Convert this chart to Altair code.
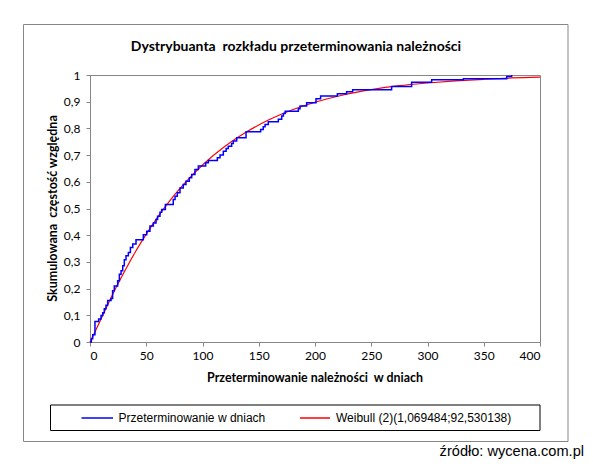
import altair as alt
import pandas as pd

# Empirical CDF (step after each listed day)
emp_days = [0, 1.2, 2.4, 4.4, 7.7, 9.8, 11.3, 12.7, 14.2, 15.7, 18.7, 20.1, 21.6, 24.6, 26.1,
            27.6, 29.1, 30.5, 32.0, 34.1, 35.9, 38.0, 40.9, 47.4, 50.4, 53.3, 56.3, 58.7, 60.1,
            62.2, 63.7, 67.0, 74.0, 75.6, 77.6, 80.0, 82.9, 85.3, 88.3, 90.4, 93.3, 96.3, 102.8,
            105.2, 113.2, 115.6, 118.5, 121.0, 122.9, 125.9, 127.4, 130.4, 138.7, 151.7, 154.0,
            155.6, 158.5, 167.4, 170.4, 171.9, 173.5, 185.2, 186.7, 192.6, 200.9, 205.0, 219.9,
            228.1, 233.5, 268.1, 285.9, 303.7, 331.9, 370.4, 374.8]
emp_cdf = [0, 0.012, 0.027, 0.077, 0.086, 0.099, 0.11, 0.125, 0.138, 0.155, 0.163, 0.192, 0.21,
           0.229, 0.254, 0.267, 0.286, 0.308, 0.323, 0.335, 0.354, 0.367, 0.383, 0.402, 0.415,
           0.434, 0.446, 0.459, 0.471, 0.486, 0.496, 0.515, 0.534, 0.546, 0.559, 0.577, 0.59,
           0.602, 0.615, 0.627, 0.646, 0.659, 0.671, 0.68, 0.69, 0.70, 0.714, 0.725, 0.733,
           0.743, 0.753, 0.765, 0.787, 0.796, 0.806, 0.815, 0.825, 0.834, 0.846, 0.856, 0.864,
           0.874, 0.884, 0.896, 0.911, 0.921, 0.93, 0.937, 0.945, 0.957, 0.973, 0.982, 0.986,
           0.994, 1.0]

# Fitted Weibull curve
fit_days = [0, 5, 10, 15, 20, 25, 30, 35, 40, 50, 60, 70, 80, 90, 100, 120, 140, 160, 180,
            200, 225, 250, 275, 300, 325, 350, 375, 400]
fit_cdf = [0, 0.043, 0.088, 0.133, 0.177, 0.219, 0.259, 0.298, 0.335, 0.404, 0.467, 0.524,
           0.575, 0.621, 0.663, 0.733, 0.789, 0.834, 0.870, 0.898, 0.925, 0.945, 0.960, 0.970,
           0.978, 0.984, 0.989, 0.992]

x_ticks = [0, 50, 100, 150, 200, 250, 300, 350, 400]
y_ticks = [0, 0.1, 0.2, 0.3, 0.4, 0.5, 0.6, 0.7, 0.8, 0.9, 1]

title_text = "Dystrybuanta\u00a0 rozkładu przeterminowania należności"
x_title = "Przeterminowanie należności\u00a0 w dniach"
y_title = "Skumulowana\u00a0 częstość względna"
legend_labels = ["Przeterminowanie w dniach", "Weibull (2)(1,069484;92,530138)"]
source_text = "źródło: wycena.com.pl"

emp = pd.DataFrame({"dni": emp_days, "F": emp_cdf})
fit = pd.DataFrame({"dni": fit_days, "F": fit_cdf})
one = pd.DataFrame({"a": [0]})

GRAY = "#868686"
xs = alt.Scale(domain=[0, 400], nice=False, zero=False)
ys = alt.Scale(domain=[0, 1], nice=False)

xaxis = alt.Axis(values=x_ticks, title=None, grid=False, domainColor=GRAY, tickColor=GRAY,
                 tickSize=4, labelFont="Lato", labelFontSize=12, labelColor="#000",
                 labelPadding=4)
yaxis = alt.Axis(values=y_ticks, title=None, grid=False, domainColor=GRAY, tickColor=GRAY,
                 tickSize=4, labelFont="Lato", labelFontSize=12, labelColor="#000",
                 labelPadding=6, labelExpr="replace(toString(datum.value), '.', ',')")

blue = alt.Chart(emp).mark_line(color="#0000FF", strokeWidth=1.5, interpolate="step-after").encode(
    x=alt.X("dni:Q", scale=xs, axis=xaxis),
    y=alt.Y("F:Q", scale=ys, axis=yaxis),
)
red = alt.Chart(fit).mark_line(color="#FF0000", strokeWidth=1.2, interpolate="monotone").encode(
    x=alt.X("dni:Q", scale=xs, axis=xaxis),
    y=alt.Y("F:Q", scale=ys, axis=yaxis),
)


def txt(text, x, y, **kw):
    return alt.Chart(one).mark_text(text=text, **kw).encode(x=alt.value(x), y=alt.value(y))


outer = alt.Chart(one).mark_rect(fillOpacity=0, stroke=GRAY, strokeWidth=1).encode(
    x=alt.value(-66.5), x2=alt.value(478), y=alt.value(-50.5), y2=alt.value(366.5))
legbox = alt.Chart(one).mark_rect(fillOpacity=0, stroke="#000", strokeWidth=1).encode(
    x=alt.value(-39.5), x2=alt.value(450), y=alt.value(330), y2=alt.value(355.5))
leg_blue = alt.Chart(one).mark_rule(color="#0000FF", strokeWidth=1.5).encode(
    x=alt.value(-8.5), x2=alt.value(23), y=alt.value(343))
leg_red = alt.Chart(one).mark_rule(color="#FF0000", strokeWidth=1.5).encode(
    x=alt.value(210), x2=alt.value(240), y=alt.value(343))

title = txt(title_text, 206, -28, font="Lato", fontSize=14, fontWeight="bold", align="center",
            baseline="middle", color="#000")
xt = txt(x_title, 225, 303, font="Lato", fontSize=12.4, fontWeight="bold", align="center",
         baseline="middle", color="#000")
yt = txt(y_title, -37, 133.5, font="Lato", fontSize=12.5, fontWeight="bold", align="center",
         baseline="middle", angle=270, color="#000")
l1 = txt(legend_labels[0], 28.5, 343, font="Liberation Sans", fontSize=12, align="left",
         baseline="middle", color="#000")
l2 = txt(legend_labels[1], 246, 343, font="Liberation Sans", fontSize=12, align="left",
         baseline="middle", color="#000")
src = txt(source_text, 494, 383.5, font="Liberation Sans", fontSize=14.6, align="right",
          baseline="bottom", color="#000")

chart = alt.layer(outer, legbox, red, blue, leg_blue, leg_red, title, xt, yt, l1, l2, src).properties(
    width=450, height=267,
    autosize=alt.AutoSizeParams(type="none"),
    padding={"left": 82, "top": 67, "right": 45, "bottom": 118},
    background="white",
).configure_view(stroke=GRAY, strokeWidth=1)

chart.save("out.html", embed_options={"renderer": "svg", "actions": False})
